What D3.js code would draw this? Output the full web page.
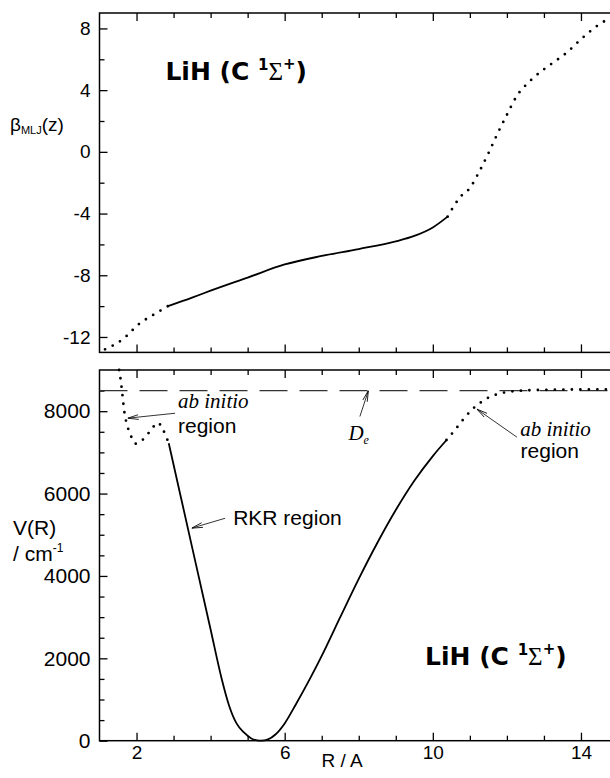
<!DOCTYPE html>
<html>
<head>
<meta charset="utf-8">
<script src="https://cdn.jsdelivr.net/npm/d3@7"></script>
<style>
body { margin: 0; background: #fff; }
svg { display: block; }
</style>
</head>
<body>
<script>
// top panel: beta_MLJ(z) vs R (dotted = extrapolated, solid = fitted)
var betaLeftR  = [1.15, 1.6, 2.1, 2.5, 2.85];
var betaLeftV  = [-12.8, -12.2, -11.1, -10.5, -10.0];
var betaMidR   = [2.85, 3.5, 4.0, 5.0, 6.0, 7.0, 8.0, 9.0, 9.5, 10.0, 10.4];
var betaMidV   = [-10.0, -9.45, -9.0, -8.15, -7.3, -6.75, -6.3, -5.8, -5.45, -4.9, -4.2];
var betaRightR = [10.4, 10.75, 11.0, 11.25, 11.5, 11.75, 12.0, 12.25, 12.65, 13.2, 13.6, 14.0, 14.4, 14.8];
var betaRightV = [-4.2, -2.9, -2.35, -1.3, -0.1, 1.2, 2.4, 3.55, 4.65, 5.7, 6.4, 7.3, 8.1, 8.7];

// bottom panel: V(R) in cm-1
var abLeftR  = [1.53, 1.58, 1.61, 1.67, 1.76, 1.88, 1.98, 2.16, 2.39, 2.57, 2.70, 2.79, 2.87];
var abLeftV  = [9000, 8700, 8470, 7990, 7620, 7340, 7210, 7300, 7540, 7720, 7580, 7400, 7220];
var rkrR     = [2.87, 3.2, 3.6, 4.0, 4.3, 4.5, 4.7, 4.9, 5.1, 5.25, 5.37, 5.55, 5.75, 6.0, 6.3, 6.68, 7.0, 7.5, 8.0, 8.5, 9.0, 9.5, 10.0, 10.37];
var rkrV     = [7220, 5900, 4300, 2700, 1500, 850, 420, 200, 55, 10, 0, 30, 150, 420, 880, 1500, 2060, 3000, 3930, 4800, 5600, 6310, 6910, 7300];
var abRightR = [10.37, 10.63, 10.85, 11.07, 11.3, 11.52, 11.79, 12.25, 12.87, 13.5, 14.49, 14.8];
var abRightV = [7300, 7580, 7830, 8050, 8215, 8340, 8425, 8490, 8515, 8525, 8530, 8532];
var De = 8500;

// ticks
var xMajor = [2, 6, 10, 14];
var xMinor = [3, 4, 5, 7, 8, 9, 11, 12, 13];
var betaMajor = [8, 4, 0, -4, -8, -12];
var betaMinor = [6, 2, -2, -6, -10];
var vMajor = [0, 2000, 4000, 6000, 8000];
var vMinor = [500, 1000, 1500, 2500, 3000, 3500, 4500, 5000, 5500, 6500, 7000, 7500, 8500];

var width = 610;
var height = 778;
var sans = "'Liberation Sans', Arial, Helvetica, sans-serif";
var serif = "'Liberation Serif', 'Times New Roman', serif";

var svg = d3.select("body").append("svg").attr("width", width).attr("height", height);
svg.append("rect").attr("width", width).attr("height", height).attr("fill", "#fff");

var x = d3.scaleLinear().domain([1, 15]).range([99.5, 618]);
var yTop = d3.scaleLinear().domain([-13, 9]).range([352.4, 13]);
var yBot = d3.scaleLinear().domain([0, 9000]).range([740.7, 370]);

var defs = svg.append("defs");
defs.append("marker").attr("id", "arr")
    .attr("viewBox", "0 0 11 6").attr("refX", 11).attr("refY", 3)
    .attr("markerWidth", 11).attr("markerHeight", 6)
    .attr("markerUnits", "userSpaceOnUse").attr("orient", "auto")
    .append("path").attr("d", "M0,0.6 L11,3 L0,5.4")
    .attr("fill", "none").attr("stroke", "#000").attr("stroke-width", 0.8);

function addTicks(axis, transform, values, size, labels, fontSize, pad) {
    var g = svg.append("g").attr("transform", transform)
        .call(axis.tickValues(values).tickSizeInner(-size).tickSizeOuter(0)
            .tickPadding(pad || 0).tickFormat(labels ? function (d) { return String(d); } : ""));
    g.select(".domain").remove();
    g.selectAll("line").attr("stroke", "#000").attr("stroke-width", 1.3);
    g.attr("font-family", sans).attr("font-size", fontSize || 10);
    g.selectAll("text").attr("fill", "#000");
    return g;
}

function panel(y, yMaj, yMin, yFont) {
    var y0 = y.range()[0], y1 = y.range()[1];
    svg.append("rect").attr("x", x(1)).attr("y", y1)
        .attr("width", x(15) - x(1)).attr("height", y0 - y1)
        .attr("fill", "none").attr("stroke", "#000").attr("stroke-width", 1.5);
    addTicks(d3.axisLeft(y), "translate(" + x(1) + ",0)", yMaj, 8, true, yFont, 9);
    addTicks(d3.axisLeft(y), "translate(" + x(1) + ",0)", yMin, 5, false);
    addTicks(d3.axisRight(y), "translate(" + x(15) + ",0)", yMaj, 8, false);
    addTicks(d3.axisRight(y), "translate(" + x(15) + ",0)", yMin, 5, false);
    addTicks(d3.axisTop(x), "translate(0," + y1 + ")", xMajor, 8, false);
    addTicks(d3.axisTop(x), "translate(0," + y1 + ")", xMinor, 5, false);
}

panel(yTop, betaMajor, betaMinor, 19);
panel(yBot, vMajor, vMinor, 21);
addTicks(d3.axisBottom(x), "translate(0," + yTop.range()[0] + ")", xMajor, 8, false);
addTicks(d3.axisBottom(x), "translate(0," + yTop.range()[0] + ")", xMinor, 5, false);
addTicks(d3.axisBottom(x), "translate(0," + yBot.range()[0] + ")", xMajor, 8, true, 19, 5);
addTicks(d3.axisBottom(x), "translate(0," + yBot.range()[0] + ")", xMinor, 5, false);

function curve(rs, vs, y, dotted) {
    var line = d3.line().x(function (d) { return x(d[0]); }).y(function (d) { return y(d[1]); })
        .curve(d3.curveMonotoneX);
    var p = svg.append("path").datum(d3.zip(rs, vs)).attr("d", line)
        .attr("fill", "none").attr("stroke", "#000");
    if (dotted) {
        p.attr("stroke-width", 2.8).attr("stroke-linecap", "round").attr("stroke-dasharray", "0 8.5");
    } else {
        p.attr("stroke-width", 1.8);
    }
}

// De dashed line
svg.append("line").attr("x1", x(1)).attr("x2", x(15))
    .attr("y1", yBot(De)).attr("y2", yBot(De))
    .attr("stroke", "#333").attr("stroke-width", 1.2).attr("stroke-dasharray", "28 12");

curve(betaLeftR, betaLeftV, yTop, true);
curve(betaMidR, betaMidV, yTop, false);
curve(betaRightR, betaRightV, yTop, true);
curve(abLeftR, abLeftV, yBot, true);
curve(rkrR, rkrV, yBot, false);
curve(abRightR, abRightV, yBot, true);

// annotation arrows [fromR, fromV, toR, toV]
var arrows = [
    [3.04, 7950, 1.76, 7830],
    [8.03, 7870, 8.26, De],
    [4.39, 5400, 3.49, 5160],
    [12.27, 7370, 11.19, 8050]
];
arrows.forEach(function (a) {
    svg.append("line").attr("x1", x(a[0])).attr("y1", yBot(a[1]))
        .attr("x2", x(a[2])).attr("y2", yBot(a[3]))
        .attr("stroke", "#000").attr("stroke-width", 0.8).attr("marker-end", "url(#arr)");
});

function label(px, py, txt, font, size, style) {
    return svg.append("text").attr("x", px).attr("y", py).text(txt)
        .attr("font-family", font).attr("font-size", size)
        .attr("font-style", style || "normal").attr("fill", "#000");
}

label(x(3.12), yBot(8070), "ab initio", serif, 21, "italic");
label(x(3.12), yBot(7480), "region", sans, 21);
label(x(12.36), yBot(7400), "ab initio", serif, 21, "italic");
label(x(12.37), yBot(6870), "region", sans, 21);
label(x(4.61), yBot(5240), "RKR region", sans, 21);
var de = label(x(7.72), yBot(7300), "D", serif, 21, "italic");
de.append("tspan").attr("font-size", 12).attr("dy", 4).text("e");

// axis titles
label(13, 535, "V(R)", sans, 21);
var cm = label(13, 561, "/ cm", sans, 21);
cm.append("tspan").attr("font-size", 12).attr("dy", -9).text("-1");
label(x(7.55), 767, "R / A", sans, 19).attr("text-anchor", "middle");
var beta = label(10, 131, "\u03b2", sans, 19);
beta.append("tspan").attr("font-size", 11).attr("dy", 3).text("MLJ");
beta.append("tspan").attr("dy", -3).text("(z)");

// molecule titles
function title(px, py) {
    var t = svg.append("text").attr("x", px).attr("y", py)
        .attr("font-family", "'DejaVu Sans', sans-serif").attr("font-weight", "bold")
        .attr("font-size", 25).attr("fill", "#000");
    t.append("tspan").text("LiH (C ");
    t.append("tspan").attr("font-size", 15).attr("dy", -10).text("1");
    t.append("tspan").attr("font-weight", "normal").attr("font-family", "'Liberation Serif', serif").attr("dy", 10).text("\u03a3");
    t.append("tspan").attr("font-size", 15).attr("dy", -11).text("+");
    t.append("tspan").attr("dy", 11).text(")");
}
title(x(2.78), yTop(4.66));
title(x(9.79), yBot(1838));
</script>
</body>
</html>
